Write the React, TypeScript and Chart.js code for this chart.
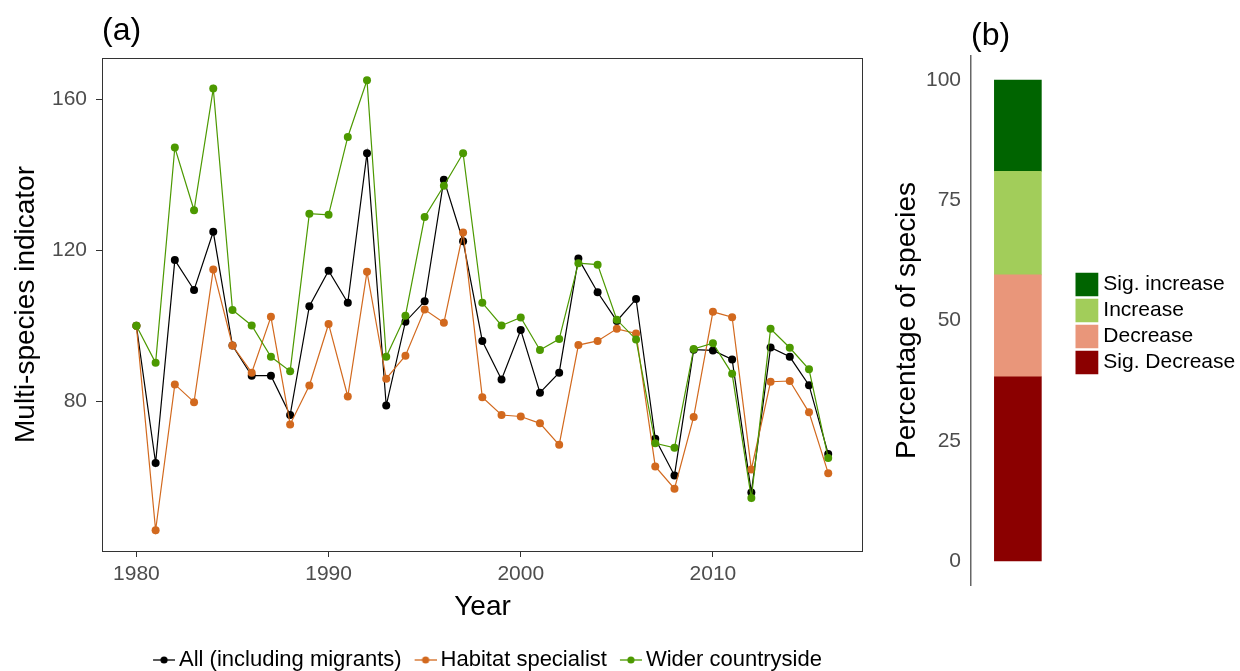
import React, { useEffect, useRef } from "react";
import { Chart, registerables } from "chart.js";

Chart.register(...registerables);

// ---------- data ----------
const years = [
  1980, 1981, 1982, 1983, 1984, 1985, 1986, 1987, 1988, 1989,
  1990, 1991, 1992, 1993, 1994, 1995, 1996, 1997, 1998, 1999,
  2000, 2001, 2002, 2003, 2004, 2005, 2006, 2007, 2008, 2009,
  2010, 2011, 2012, 2013, 2014, 2015, 2016,
];
const allSpecies = [
  100, 63.7, 117.4, 109.5, 124.9, 94.8, 86.8, 86.8, 76.4, 105.2,
  114.6, 106.1, 145.7, 78.9, 101.1, 106.5, 138.7, 122.4, 96.0, 85.8,
  98.9, 82.3, 87.6, 117.8, 108.9, 101.3, 107.1, 70.1, 60.4, 93.7,
  93.5, 91.1, 55.9, 94.3, 91.8, 84.3, 66.1,
];
const habitatSpecialist = [
  100, 45.9, 84.5, 79.8, 114.9, 94.8, 87.6, 102.4, 73.9, 84.2,
  100.5, 81.3, 114.3, 86.0, 92.1, 104.3, 100.8, 124.7, 81.1, 76.4,
  76.0, 74.2, 68.5, 94.9, 96.0, 99.2, 98.0, 62.8, 56.9, 75.9,
  103.7, 102.3, 62.0, 85.2, 85.4, 77.1, 61.0,
];
const widerCountryside = [
  100, 90.2, 147.2, 130.6, 162.8, 104.2, 100.1, 91.8, 88.0, 129.7,
  129.4, 150.0, 165.0, 91.8, 102.7, 128.8, 137.1, 145.7, 106.1, 100.1,
  102.2, 93.6, 96.5, 116.6, 116.2, 101.6, 96.4, 68.9, 67.7, 93.9,
  95.4, 87.3, 54.4, 99.2, 94.2, 88.5, 65.0,
];
const seriesLabels = ["All (including migrants)", "Habitat specialist", "Wider countryside"];
const yTicksA = [80, 120, 160];
const xTicksA = [1980, 1990, 2000, 2010];

const trendCategories = ["Sig. Decrease", "Decrease", "Increase", "Sig. increase"];
const trendValues = [38.3, 21.2, 21.5, 19.0];
const yTicksB = [0, 25, 50, 75, 100];

// ---------- styles ----------
const FONT = "'Liberation Sans', Arial, Helvetica, sans-serif";
const seriesColors = ["#000000", "#D2691E", "#4C9900"];
const trendColors = ["#8B0000", "#E9967A", "#A2CD5A", "#006400"];
const TICK_COLOR = "#4D4D4D";

function makeGlyph(color: string): HTMLCanvasElement {
  const c = document.createElement("canvas");
  c.width = 29;
  c.height = 10;
  const g = c.getContext("2d")!;
  g.strokeStyle = color;
  g.lineWidth = 1.3;
  g.beginPath();
  g.moveTo(7, 5);
  g.lineTo(29, 5);
  g.stroke();
  g.fillStyle = color;
  g.beginPath();
  g.arc(18, 5, 3.6, 0, Math.PI * 2);
  g.fill();
  return c;
}

const panelBorder = {
  id: "panelBorder",
  afterDatasetsDraw(chart: any) {
    const { ctx, chartArea: a } = chart;
    ctx.save();
    ctx.strokeStyle = "#333333";
    ctx.lineWidth = 1;
    ctx.strokeRect(a.left + 0.5, a.top + 0.5, a.right - a.left - 1, a.bottom - a.top);
    ctx.restore();
  },
};

export default function App() {
  const refA = useRef<HTMLCanvasElement>(null);
  const refB = useRef<HTMLCanvasElement>(null);

  useEffect(() => {
    const seriesValues = [allSpecies, habitatSpecialist, widerCountryside];
    const glyphs = seriesColors.map((c) => makeGlyph(c));
    // dataset order reversed so that the last series is drawn on top
    const order = [2, 1, 0];
    const datasets = order.map((i) => ({
      label: seriesLabels[i],
      data: years.map((yr, k) => ({ x: yr, y: seriesValues[i][k] })),
      borderColor: seriesColors[i],
      backgroundColor: seriesColors[i],
      borderWidth: 1.2,
      pointRadius: 4,
      pointBorderWidth: 0,
      pointBackgroundColor: seriesColors[i],
      tension: 0,
    }));

    const chartA = new Chart(refA.current!, {
      type: "line",
      data: { datasets },
      plugins: [panelBorder],
      options: {
        animation: false,
        responsive: false,
        devicePixelRatio: 1,
        layout: { padding: { left: 0, right: 0, top: 0, bottom: 0 } },
        plugins: {
          tooltip: { enabled: false },
          title: {
            display: true,
            text: "(a)",
            align: "start",
            fullSize: false,
            color: "#000",
            font: { family: FONT, size: 32, weight: "normal" },
            padding: { top: 11.8, bottom: 7.8 },
          },
          legend: {
            position: "bottom",
            fullSize: true,
            maxHeight: 35,
            labels: {
              usePointStyle: true,
              pointStyleWidth: 15,
              padding: 13,
              color: "#000",
              font: { family: FONT, size: 22 },
              generateLabels: () =>
                [0, 1, 2].map((i) => ({
                  text: seriesLabels[i],
                  fillStyle: seriesColors[i],
                  strokeStyle: seriesColors[i],
                  fontColor: "#000000",
                  lineWidth: 0,
                  pointStyle: glyphs[i],
                  hidden: false,
                  datasetIndex: order.indexOf(i),
                })),
            },
          },
        },
        scales: {
          x: {
            type: "linear",
            min: 1978.21,
            max: 2017.81,
            afterBuildTicks: (s: any) => {
              s.ticks = xTicksA.map((v) => ({ value: v }));
            },
            ticks: {
              color: TICK_COLOR,
              font: { family: FONT, size: 21 },
              padding: 5,
              maxRotation: 0,
              autoSkip: false,
              callback: (v: any) => String(v),
            },
            grid: { display: true, drawOnChartArea: false, drawTicks: true, tickLength: 6, color: "#333333", lineWidth: 1 },
            border: { display: false },
            title: {
              display: true,
              text: "Year",
              color: "#000",
              font: { family: FONT, size: 28 },
              padding: { top: 0, bottom: 11.7 },
            },
            afterFit: (s: any) => {
              s.height = 85;
            },
          },
          y: {
            type: "linear",
            min: 40.4,
            max: 170.9,
            afterBuildTicks: (s: any) => {
              s.ticks = yTicksA.map((v) => ({ value: v }));
            },
            ticks: {
              color: TICK_COLOR,
              font: { family: FONT, size: 21 },
              padding: 9,
              callback: (v: any) => String(v),
            },
            grid: { display: true, drawOnChartArea: false, drawTicks: true, tickLength: 6, color: "#333333", lineWidth: 1 },
            border: { display: false },
            title: {
              display: true,
              text: "Multi-species indicator",
              color: "#000",
              font: { family: FONT, size: 28 },
              padding: { top: 9.2, bottom: 0 },
            },
            afterFit: (s: any) => {
              s.width = 102;
            },
          },
          ySpacer: {
            type: "linear",
            position: "right",
            display: true,
            ticks: { display: false },
            grid: { display: false, drawTicks: false },
            border: { display: false },
            afterFit: (s: any) => {
              s.width = 112;
            },
          },
        },
      } as any,
    });

    const legendOrderB = [3, 2, 1, 0];
    const chartB = new Chart(refB.current!, {
      type: "bar",
      data: {
        datasets: trendCategories.map((c, i) => ({
          label: c,
          data: [{ x: 0, y: trendValues[i] }],
          backgroundColor: trendColors[i],
          borderWidth: 0,
          barThickness: 47,
          stack: "s",
        })),
      },
      options: {
        animation: false,
        responsive: false,
        devicePixelRatio: 1,
        layout: { padding: { left: 0, right: 0, top: 0, bottom: 86 } },
        plugins: {
          tooltip: { enabled: false },
          title: {
            display: true,
            text: "(b)",
            align: "start",
            fullSize: false,
            color: "#000",
            font: { family: FONT, size: 32, weight: "normal" },
            padding: { top: 16.5, bottom: 1.1 },
          },
          legend: {
            position: "right",
            fullSize: false,
            maxWidth: 164.5,
            title: { display: true, text: "", font: { size: 6, lineHeight: 1 }, padding: 0 },
            labels: {
              boxWidth: 12.3,
              boxHeight: 12.5,
              padding: 5,
              color: "#000",
              font: { family: FONT, size: 21 },
              generateLabels: () =>
                legendOrderB.map((i) => ({
                  text: trendCategories[i],
                  fillStyle: trendColors[i],
                  strokeStyle: trendColors[i],
                  fontColor: "#000000",
                  lineWidth: 11,
                  hidden: false,
                  datasetIndex: i,
                })),
            },
          },
        },
        scales: {
          x: {
            type: "linear",
            display: false,
            min: -0.397,
            max: 0.603,
          },
          y: {
            type: "linear",
            stacked: true,
            min: -5,
            max: 105,
            afterBuildTicks: (s: any) => {
              s.ticks = yTicksB.map((v) => ({ value: v }));
            },
            ticks: {
              color: TICK_COLOR,
              font: { family: FONT, size: 21 },
              padding: 10,
              callback: (v: any) => String(v),
            },
            grid: { display: false, drawTicks: false },
            border: { display: true, color: "#666666", width: 1.5 },
            title: {
              display: true,
              text: "Percentage of species",
              color: "#000",
              font: { family: FONT, size: 28 },
              padding: { top: 10.2, bottom: 0 },
            },
            afterFit: (s: any) => {
              s.width = 91;
            },
          },
        },
      } as any,
    });

    return () => {
      chartA.destroy();
      chartB.destroy();
    };
  }, []);

  return (
    <div style={{ position: "fixed", left: 0, top: 0, width: 1240, height: 671, background: "#fff" }}>
      <canvas
        ref={refA}
        width={975}
        height={671}
        style={{ position: "absolute", left: 0, top: 0, width: 975, height: 671 }}
      />
      <canvas
        ref={refB}
        width={360}
        height={671}
        style={{ position: "absolute", left: 880, top: 0, width: 360, height: 671 }}
      />
    </div>
  );
}
